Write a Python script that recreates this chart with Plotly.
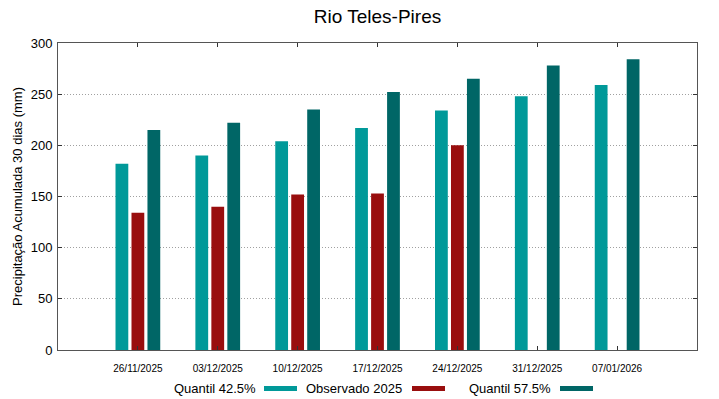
import plotly.graph_objects as go

datas = ["26/11/2025", "03/12/2025", "10/12/2025", "17/12/2025",
         "24/12/2025", "31/12/2025", "07/01/2026"]
quantil_425 = [182, 190, 204, 217, 234, 248, 259]
observado_2025 = [134, 140, 152, 153, 200, None, None]
quantil_575 = [215, 222, 235, 252, 265, 278, 284]
yticks = [0, 50, 100, 150, 200, 250, 300]

nomes = ["Quantil 42.5%", "Observado 2025", "Quantil 57.5%"]
cores = ["#009999", "#990e0e", "#006666"]

x_idx = list(range(len(datas)))

W, H = 719, 399
PL, PR, PT, PB = 58, 697, 43, 350          # plot area in screen pixels
ML, MT = PL, PT
MR, MB = W - PR, H - PB

def px_x(sx):
    return (sx - PL) / (PR - PL)

def px_y(sy):
    return (PB - sy) / (PB - PT)

fig = go.Figure()
for nome, vals, cor in zip(nomes, [quantil_425, observado_2025, quantil_575], cores):
    fig.add_trace(go.Bar(x=x_idx, y=vals, name=nome,
                         marker=dict(color=cor, line=dict(width=0)),
                         showlegend=False))

fig.update_layout(
    width=W, height=H,
    margin=dict(l=ML, r=MR, t=MT, b=MB, autoexpand=False),
    paper_bgcolor="white", plot_bgcolor="white",
    barmode="group", bargap=0.4, bargroupgap=0.2,
    font=dict(family="Liberation Sans, Arial, sans-serif", color="#000000"),
    title=dict(text="Rio Teles-Pires", x=0.5, xref="paper", xanchor="center",
               y=1 - 16 / H, yanchor="middle", yref="container",
               font=dict(size=19, color="#000000")),
)

fig.update_xaxes(
    range=[-1, 7], tickmode="array", tickvals=x_idx, ticktext=datas,
    tickfont=dict(size=10), ticks="inside", ticklen=4, tickcolor="#333333",
    ticklabelstandoff=9,
    showline=True, linecolor="#555555", linewidth=1, mirror="ticks",
    showgrid=False, zeroline=False, automargin=False,
)
fig.update_yaxes(
    range=[0, 300], tickmode="array", tickvals=yticks,
    tickfont=dict(size=13), ticks="inside", ticklen=4, tickcolor="#333333",
    ticklabelstandoff=2,
    showline=True, linecolor="#555555", linewidth=1, mirror="ticks",
    showgrid=True, gridcolor="#a0a0a0", griddash="1px,2px", gridwidth=1,
    zeroline=False, automargin=False,
    title=dict(text="Precipitação Acumulada 30 dias (mm)", font=dict(size=13), standoff=5),
)

# Legend in gnuplot style: text followed by a colour sample
text_right = [257, 403, 552]
sw_x = [(264, 297), (412, 445), (560, 593)]
for nome, cor, tr, (x0, x1) in zip(nomes, cores, text_right, sw_x):
    fig.add_annotation(text=nome, xref="paper", yref="paper",
                       x=px_x(tr + 1), xanchor="right",
                       y=px_y(388), yanchor="middle",
                       showarrow=False, font=dict(size=13, color="#000000"))
    fig.add_shape(type="rect", xref="paper", yref="paper",
                  x0=px_x(x0), x1=px_x(x1),
                  y0=px_y(391), y1=px_y(386),
                  fillcolor=cor, line=dict(width=0))

# remove the default 8px page margin so the figure sits at the window origin
fig.write_html("out.html",
               config={"displayModeBar": False},
               post_script="document.body.style.margin='0px';document.body.style.overflow='hidden';")
